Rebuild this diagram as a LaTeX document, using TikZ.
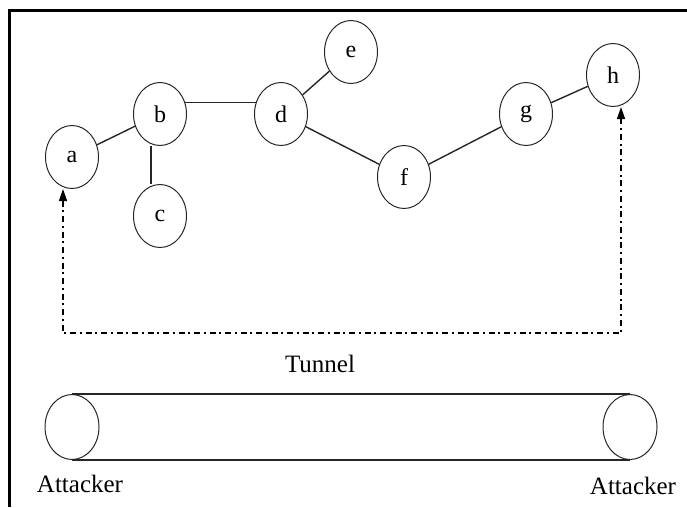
\documentclass[tikz,border=0pt]{standalone}
\usepackage{fontspec}
\setmainfont{Liberation Serif}
\usetikzlibrary{shapes.geometric,arrows.meta}
\begin{document}
\begin{tikzpicture}[x=1pt,y=-1pt,
  vnode/.style={ellipse,draw=black!85,line width=1pt,minimum width=53pt,minimum height=63pt,inner sep=0pt,font=\fontsize{24}{24}\selectfont},
  cylend/.style={ellipse,draw=black!85,line width=1pt,minimum width=54pt,minimum height=65pt,inner sep=0pt},
  edge/.style={line width=1.4pt,draw=black!85},
  tun/.style={line width=1.4pt,dash pattern=on 6pt off 3.5pt on 2pt off 4pt,{Triangle[length=12pt,width=8pt]}-{Triangle[length=12pt,width=8pt]}},
  lbl/.style={font=\fontsize{25}{25}\selectfont}]
\useasboundingbox (0,0) rectangle (687,507);
\draw[line width=3pt] (9,507) -- (9,10) -- (687,10);
% nodes
\node[vnode] (a) at (72,157) {a};
\node[vnode] (b) at (160,114) {b};
\node[vnode] (c) at (160,216) {c};
\node[vnode] (d) at (281,114) {d};
\node[vnode] (e) at (351,52) {e};
\node[vnode] (f) at (404,177) {f};
\node[vnode] (g) at (526,114) {g};
\node[vnode] (h) at (613,75) {h};
% edges
\draw[edge] (a) -- (b);
\draw[edge] (b.24) -- (d.156);
\draw[edge] ([xshift=-9pt]b.south) -- ([xshift=-9pt]c.north);
\draw[edge] (d) -- (e);
\draw[edge] (d) -- (f);
\draw[edge] (f) -- (g);
\draw[edge] (g) -- (h);
% tunnel path
\coordinate (p1) at (63,333);
\coordinate (p2) at (621,333);
\draw[tun] (p1 |- a.south) -- (p1) -- (p2) -- (p2 |- h.south);
\node[lbl] (tl) at (320,364) {Tunnel};
% cylinder
\node[cylend] (ca) at (72,427) {};
\node[cylend] (cb) at (630,427) {};
\draw[edge] (ca.north) -- (cb.north);
\draw[edge] (ca.south) -- (cb.south);
\node[lbl] (la) at (80,484) {Attacker};
\node[lbl] (lb) at (633,486) {Attacker};
\end{tikzpicture}
\end{document}
